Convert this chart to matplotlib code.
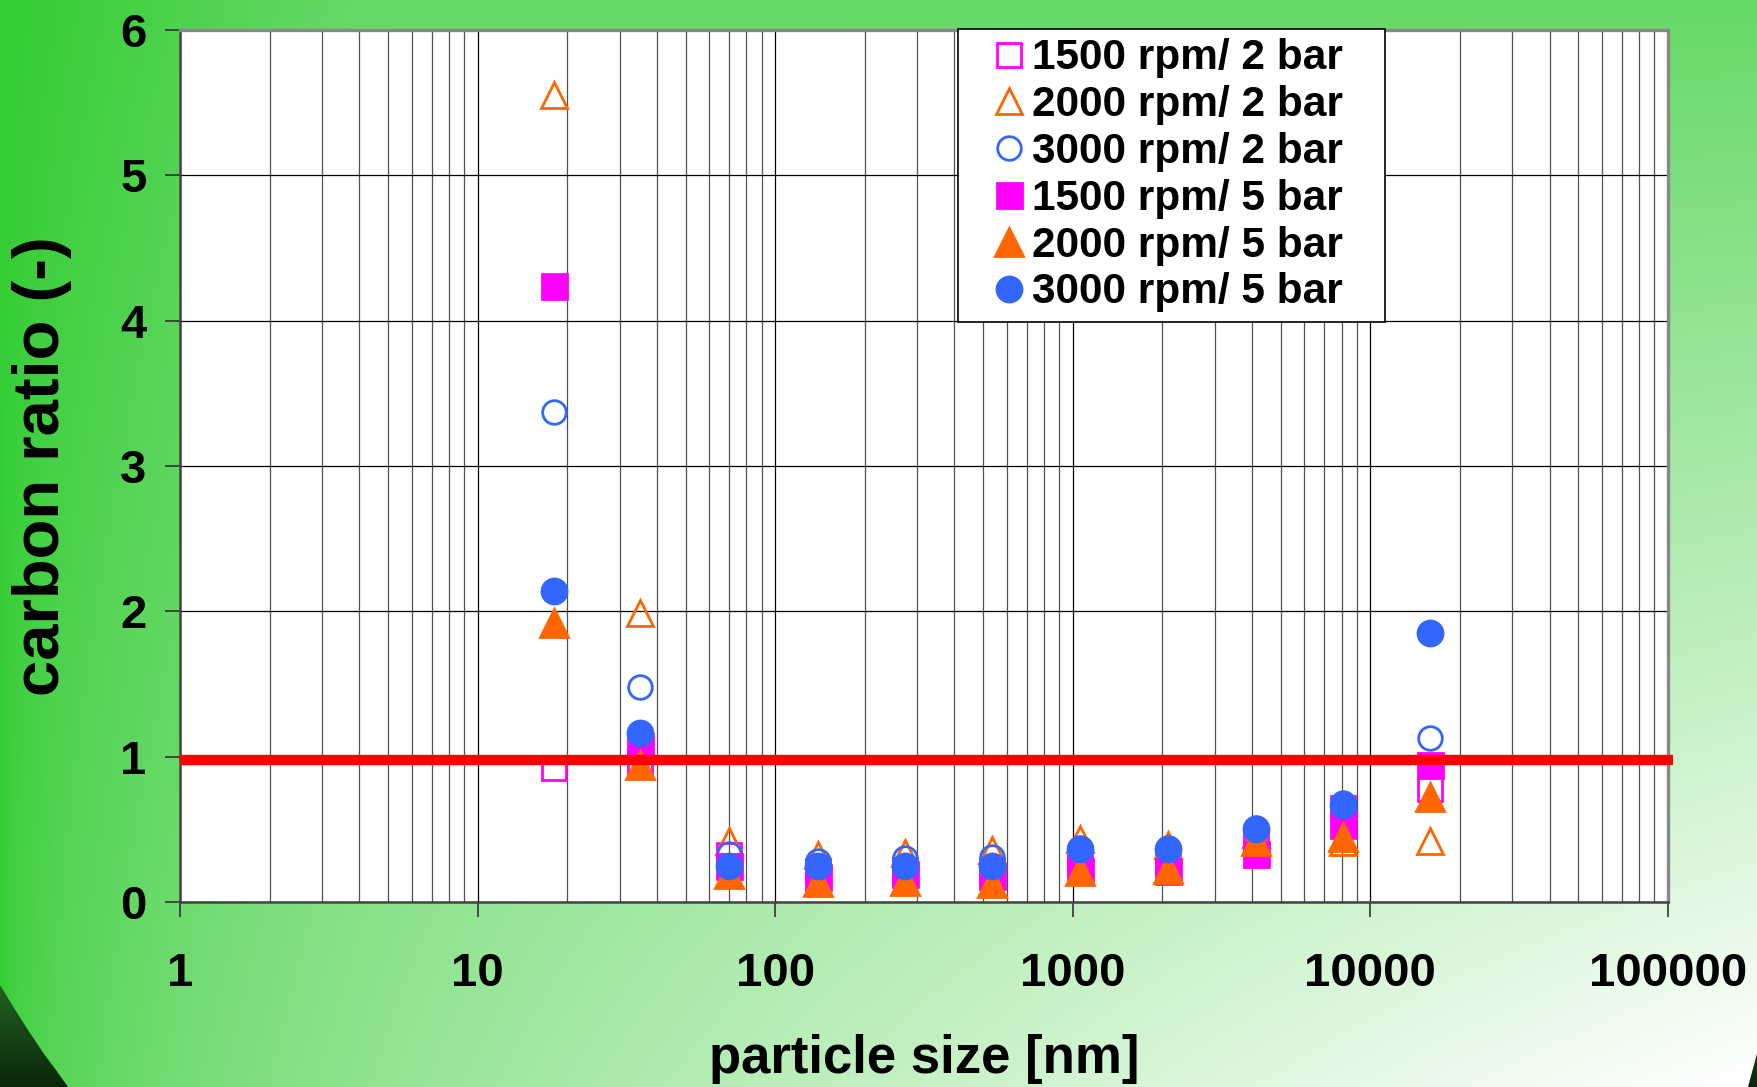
import numpy as np
import matplotlib.pyplot as plt
from matplotlib.ticker import LogLocator, NullFormatter
from matplotlib.patches import Polygon

plt.rcParams['font.family'] = ['Liberation Sans', 'DejaVu Sans']
plt.rcParams['font.weight'] = 'bold'

# particle size classes [nm]
size_nm = [18, 35, 70, 139, 273, 537, 1055, 2094, 4115, 8090, 15900]

# carbon ratio per operating point
r1500_2bar = [0.92, 0.96, 0.32, 0.21, 0.22, 0.22, 0.27, 0.275, 0.385, 0.65, 0.78]
r2000_2bar = [5.55, 1.99, 0.42, 0.32, 0.34, 0.355, 0.435, 0.39, 0.47, 0.415, 0.42]
r3000_2bar = [3.37, 1.48, 0.33, 0.28, 0.30, 0.31, 0.37, 0.37, 0.51, 0.68, 1.13]
r1500_5bar = [4.24, 1.07, 0.25, 0.17, 0.19, 0.18, 0.21, 0.21, 0.33, 0.53, 0.94]
r2000_5bar = [1.92, 0.94, 0.19, 0.14, 0.145, 0.13, 0.21, 0.23, 0.42, 0.445, 0.72]
r3000_5bar = [2.14, 1.16, 0.245, 0.245, 0.245, 0.25, 0.367, 0.367, 0.50, 0.665, 1.85]

ref_level = 0.98

labels = ['1500 rpm/ 2 bar', '2000 rpm/ 2 bar', '3000 rpm/ 2 bar',
          '1500 rpm/ 5 bar', '2000 rpm/ 5 bar', '3000 rpm/ 5 bar']

W_PX, H_PX = 1758, 1087
fig = plt.figure(figsize=(W_PX / 100, H_PX / 100), dpi=100)

# slide background: green fading to white towards the lower right
bg = fig.add_axes([0, 0, 1, 1], zorder=-10)
gx, gy = np.meshgrid(np.linspace(0, 1, 440), np.linspace(0, 1, 272))
w = 0.25 * np.clip(gx / 0.2, 0, 1) * (1 - gy) + gy * np.sqrt(gx)
w = np.clip(w, 0, 1)[..., None]
green = np.array([51, 204, 51]) / 255
bg.imshow(green * (1 - w) + w, extent=[0, 1, 0, 1], aspect='auto', origin='upper')

# dark corner swooshes
dark = np.linspace(0, 1, 100)[:, None] * np.ones((1, 10))
dark_rgb = np.dstack([0.16 - 0.12 * dark, 0.45 - 0.3 * dark, 0.16 - 0.12 * dark])


def px(x, y):
    return (x / W_PX, 1 - y / H_PX)


bl = Polygon([px(0, 985), px(14, 1008), px(28, 1030), px(44, 1054), px(56, 1070),
              px(68, 1087), px(0, 1087)], closed=True, transform=bg.transAxes,
             facecolor='none', edgecolor='none')
br = Polygon([px(1748, 1087), px(1758, 1050), px(1758, 1087)], closed=True,
             transform=bg.transAxes, facecolor='none', edgecolor='none')
for poly in (bl, br):
    bg.add_patch(poly)
    im = bg.imshow(dark_rgb, extent=[0, 1, 0, 0.12], aspect='auto', origin='upper')
    im.set_clip_path(poly)
bg.set_xlim(0, 1)
bg.set_ylim(0, 1)
bg.axis('off')

ax = fig.add_axes([180 / W_PX, 1 - 902 / H_PX, 1488 / W_PX, 872 / H_PX])
ax.set_facecolor('white')
ax.set_xscale('log')

magenta = '#FF00FF'
orange = '#FF6600'
blue = '#3366FF'

series = [
    (r1500_2bar, 's', magenta, False, 17),
    (r2000_2bar, '^', orange, False, 19),
    (r3000_2bar, 'o', blue, False, 17),
    (r1500_5bar, 's', magenta, True, 18),
    (r2000_5bar, '^', orange, True, 20),
    (r3000_5bar, 'o', blue, True, 18),
]
for (vals, mk, col, filled, ms), lab in zip(series, labels):
    ax.plot(size_nm, vals, linestyle='none', marker=mk, ms=ms,
            mfc=col if filled else 'none', mec=col, mew=2.0, label=lab, zorder=3)

# reference line at ratio ~ 1
ax.plot([1, 1.04e5], [ref_level, ref_level], color='red', lw=7.5,
        clip_on=False, zorder=5, solid_capstyle='butt')

ax.set_xlim(1, 1e5)
ax.set_ylim(0, 6)
ax.set_yticks(range(7))
ax.set_xticks([1, 10, 100, 1000, 10000, 100000])
ax.set_xticklabels(['1', '10', '100', '1000', '10000', '100000'])
ax.xaxis.set_minor_locator(LogLocator(base=10, subs=np.arange(2, 10), numticks=20))
ax.xaxis.set_minor_formatter(NullFormatter())

ax.grid(which='major', axis='both', color='black', lw=0.9)
ax.grid(which='minor', axis='x', color='#505050', lw=0.9)
ax.set_axisbelow(True)

ax.tick_params(which='major', direction='out', length=11, width=1.2,
               color='#333333', labelsize=34)
ax.tick_params(axis='y', pad=13)
ax.tick_params(axis='x', pad=25)
ax.tick_params(which='minor', length=0)

for side in ('top', 'right'):
    ax.spines[side].set_color('#888888')
    ax.spines[side].set_linewidth(2.4)
for side in ('left', 'bottom'):
    ax.spines[side].set_color('#444444')
    ax.spines[side].set_linewidth(1.8)

ax.set_xlabel('particle size [nm]', fontsize=38, fontweight='bold')
ax.set_ylabel('carbon ratio (-)', fontsize=47, fontweight='bold')
ax.xaxis.set_label_coords(0.5, -0.151)
ax.yaxis.set_label_coords(-0.0726, 0.5)

leg = ax.legend(loc='upper left', bbox_to_anchor=(0.523, 0, 0.287, 1.001),
                mode='expand', borderaxespad=0,
                fontsize=30.5, frameon=True, fancybox=False, framealpha=1,
                edgecolor='black', handlelength=1.94, handletextpad=-0.41,
                labelspacing=0.16, borderpad=0.22, numpoints=1)
leg.get_frame().set_linewidth(1.2)
leg.set_zorder(10)

fig.savefig('out.png', dpi=100)
